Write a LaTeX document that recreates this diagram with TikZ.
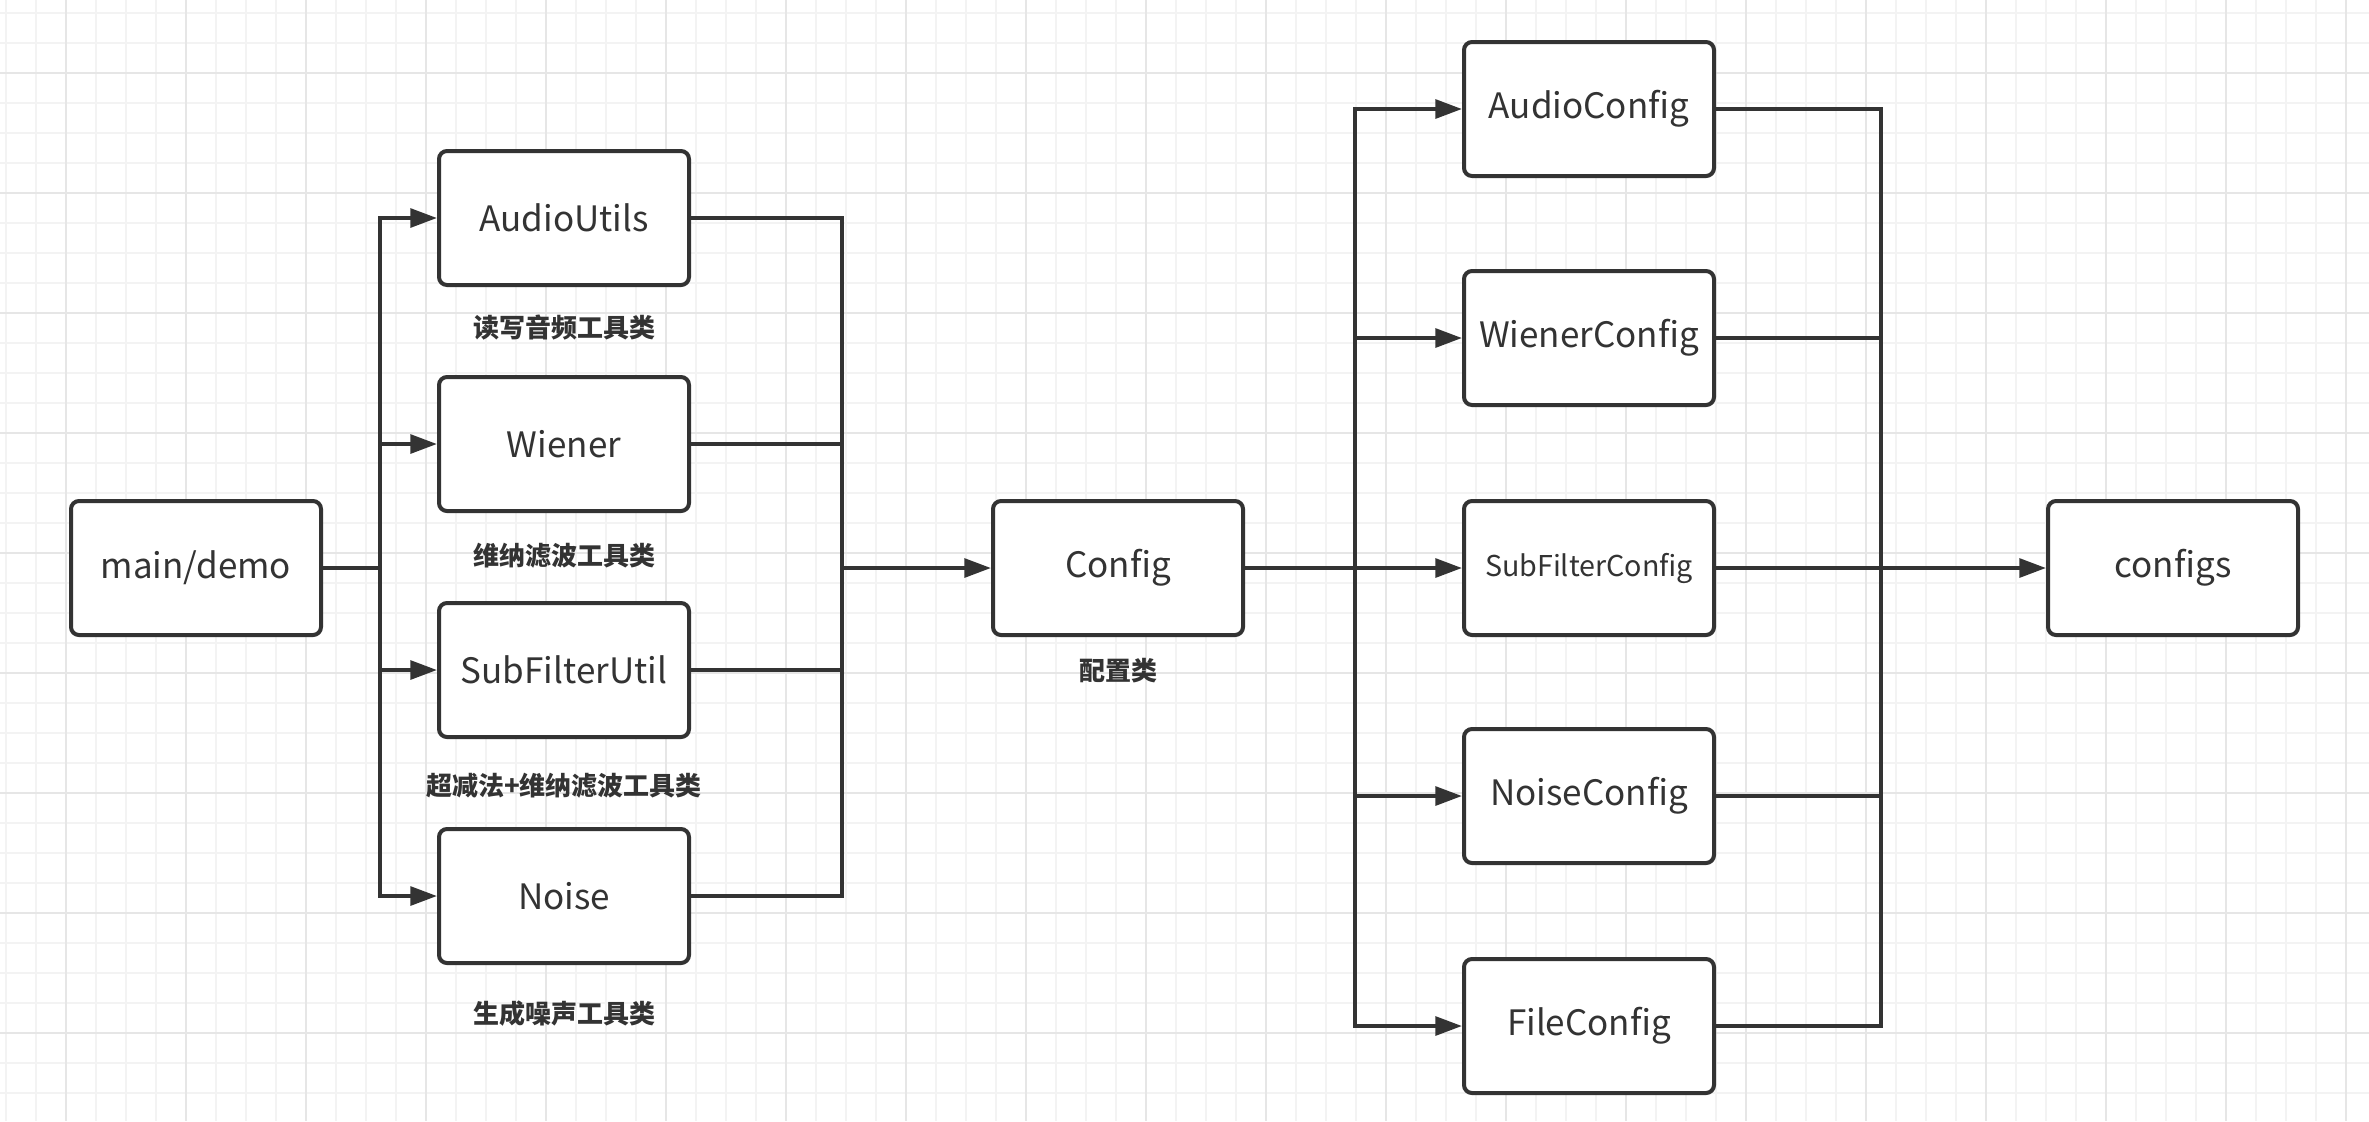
\documentclass[tikz,border=0pt]{standalone}
\usepackage{fontspec}
\setmainfont{Noto Sans CJK SC}
\newfontfamily\cjk{Noto Sans CJK SC}
\usetikzlibrary{arrows.meta}
\definecolor{ink}{HTML}{333333}
\definecolor{gridminor}{HTML}{F3F3F3}
\definecolor{gridmajor}{HTML}{E6E6E6}
\tikzset{
  box/.style={draw=ink, line width=1.2pt, rounded corners=2.4pt, fill=white,
    minimum width=75pt, minimum height=40.2pt, inner sep=0pt,
    text=ink, font=\fontsize{10.5pt}{12pt}\selectfont},
  smallbox/.style={box, font=\fontsize{8.6pt}{10pt}\selectfont},
  note/.style={text=ink, font=\cjk\bfseries\fontsize{7.8pt}{9pt}\selectfont, inner sep=0pt},
  wire/.style={draw=ink, line width=1.2pt},
  arr/.style={wire, -{Triangle[length=8pt,width=5.6pt]}}
}
\begin{document}
\begin{tikzpicture}[x=0.3pt,y=-0.3pt]
\useasboundingbox (0,0) rectangle (2369,1121);
\fill[white] (0,0) rectangle (2369,1121);
% grid
\foreach \x in {5.7,35.7,...,2369} \draw[gridminor, line width=0.6pt] (\x,0) -- (\x,1121);
\foreach \y in {13.3,43.3,...,1121} \draw[gridminor, line width=0.6pt] (0,\y) -- (2369,\y);
\foreach \x in {65.7,185.7,...,2369} \draw[gridmajor, line width=0.6pt] (\x,0) -- (\x,1121);
\foreach \y in {73.3,193.3,...,1121} \draw[gridmajor, line width=0.6pt] (0,\y) -- (2369,\y);

% nodes
\node[box] (main) at (196,568) {main/demo};
\node[box] (au) at (564,218) {AudioUtils};
\node[box] (wi) at (564,444) {Wiener};
\node[box] (sf) at (564,670) {SubFilterUtil};
\node[box] (no) at (564,896) {Noise};
\node[box] (cfg) at (1118,568) {Config};
\node[box] (ac) at (1589,109) {AudioConfig};
\node[box] (wc) at (1589,338) {WienerConfig};
\node[smallbox] (sc) at (1589,568) {SubFilterConfig};
\node[box] (nc) at (1589,796) {NoiseConfig};
\node[box] (fc) at (1589,1026) {FileConfig};
\node[box] (cfgs) at (2173,568) {configs};

% labels
\node[note] (l1) at (564,328) {读写音频工具类};
\node[note] (l2) at (564,556) {维纳滤波工具类};
\node[note] (l3) at (564,786) {超减法+维纳滤波工具类};
\node[note] (l4) at (564,1014) {生成噪声工具类};
\node[note] (l5) at (1118,671) {配置类};

% bus points
\coordinate (b1) at (380,568);
\coordinate (b2) at (842,568);
\coordinate (b3) at (1355,568);
\coordinate (b4) at (1881,568);

% connectors
\draw[wire] (main.east) -- (b1);
\foreach \n in {au,wi,sf,no} \draw[arr] (b1) |- (\n.west);
\foreach \n in {au,wi,sf,no} \draw[wire] (\n.east) -| (b2);
\draw[arr] (b2) -- (cfg.west);
\draw[wire] (cfg.east) -- (b3);
\foreach \n in {ac,wc,sc,nc,fc} \draw[arr] (b3) |- (\n.west);
\foreach \n in {ac,wc,sc,nc,fc} \draw[wire] (\n.east) -| (b4);
\draw[arr] (b4) -- (cfgs.west);
\end{tikzpicture}
\end{document}
